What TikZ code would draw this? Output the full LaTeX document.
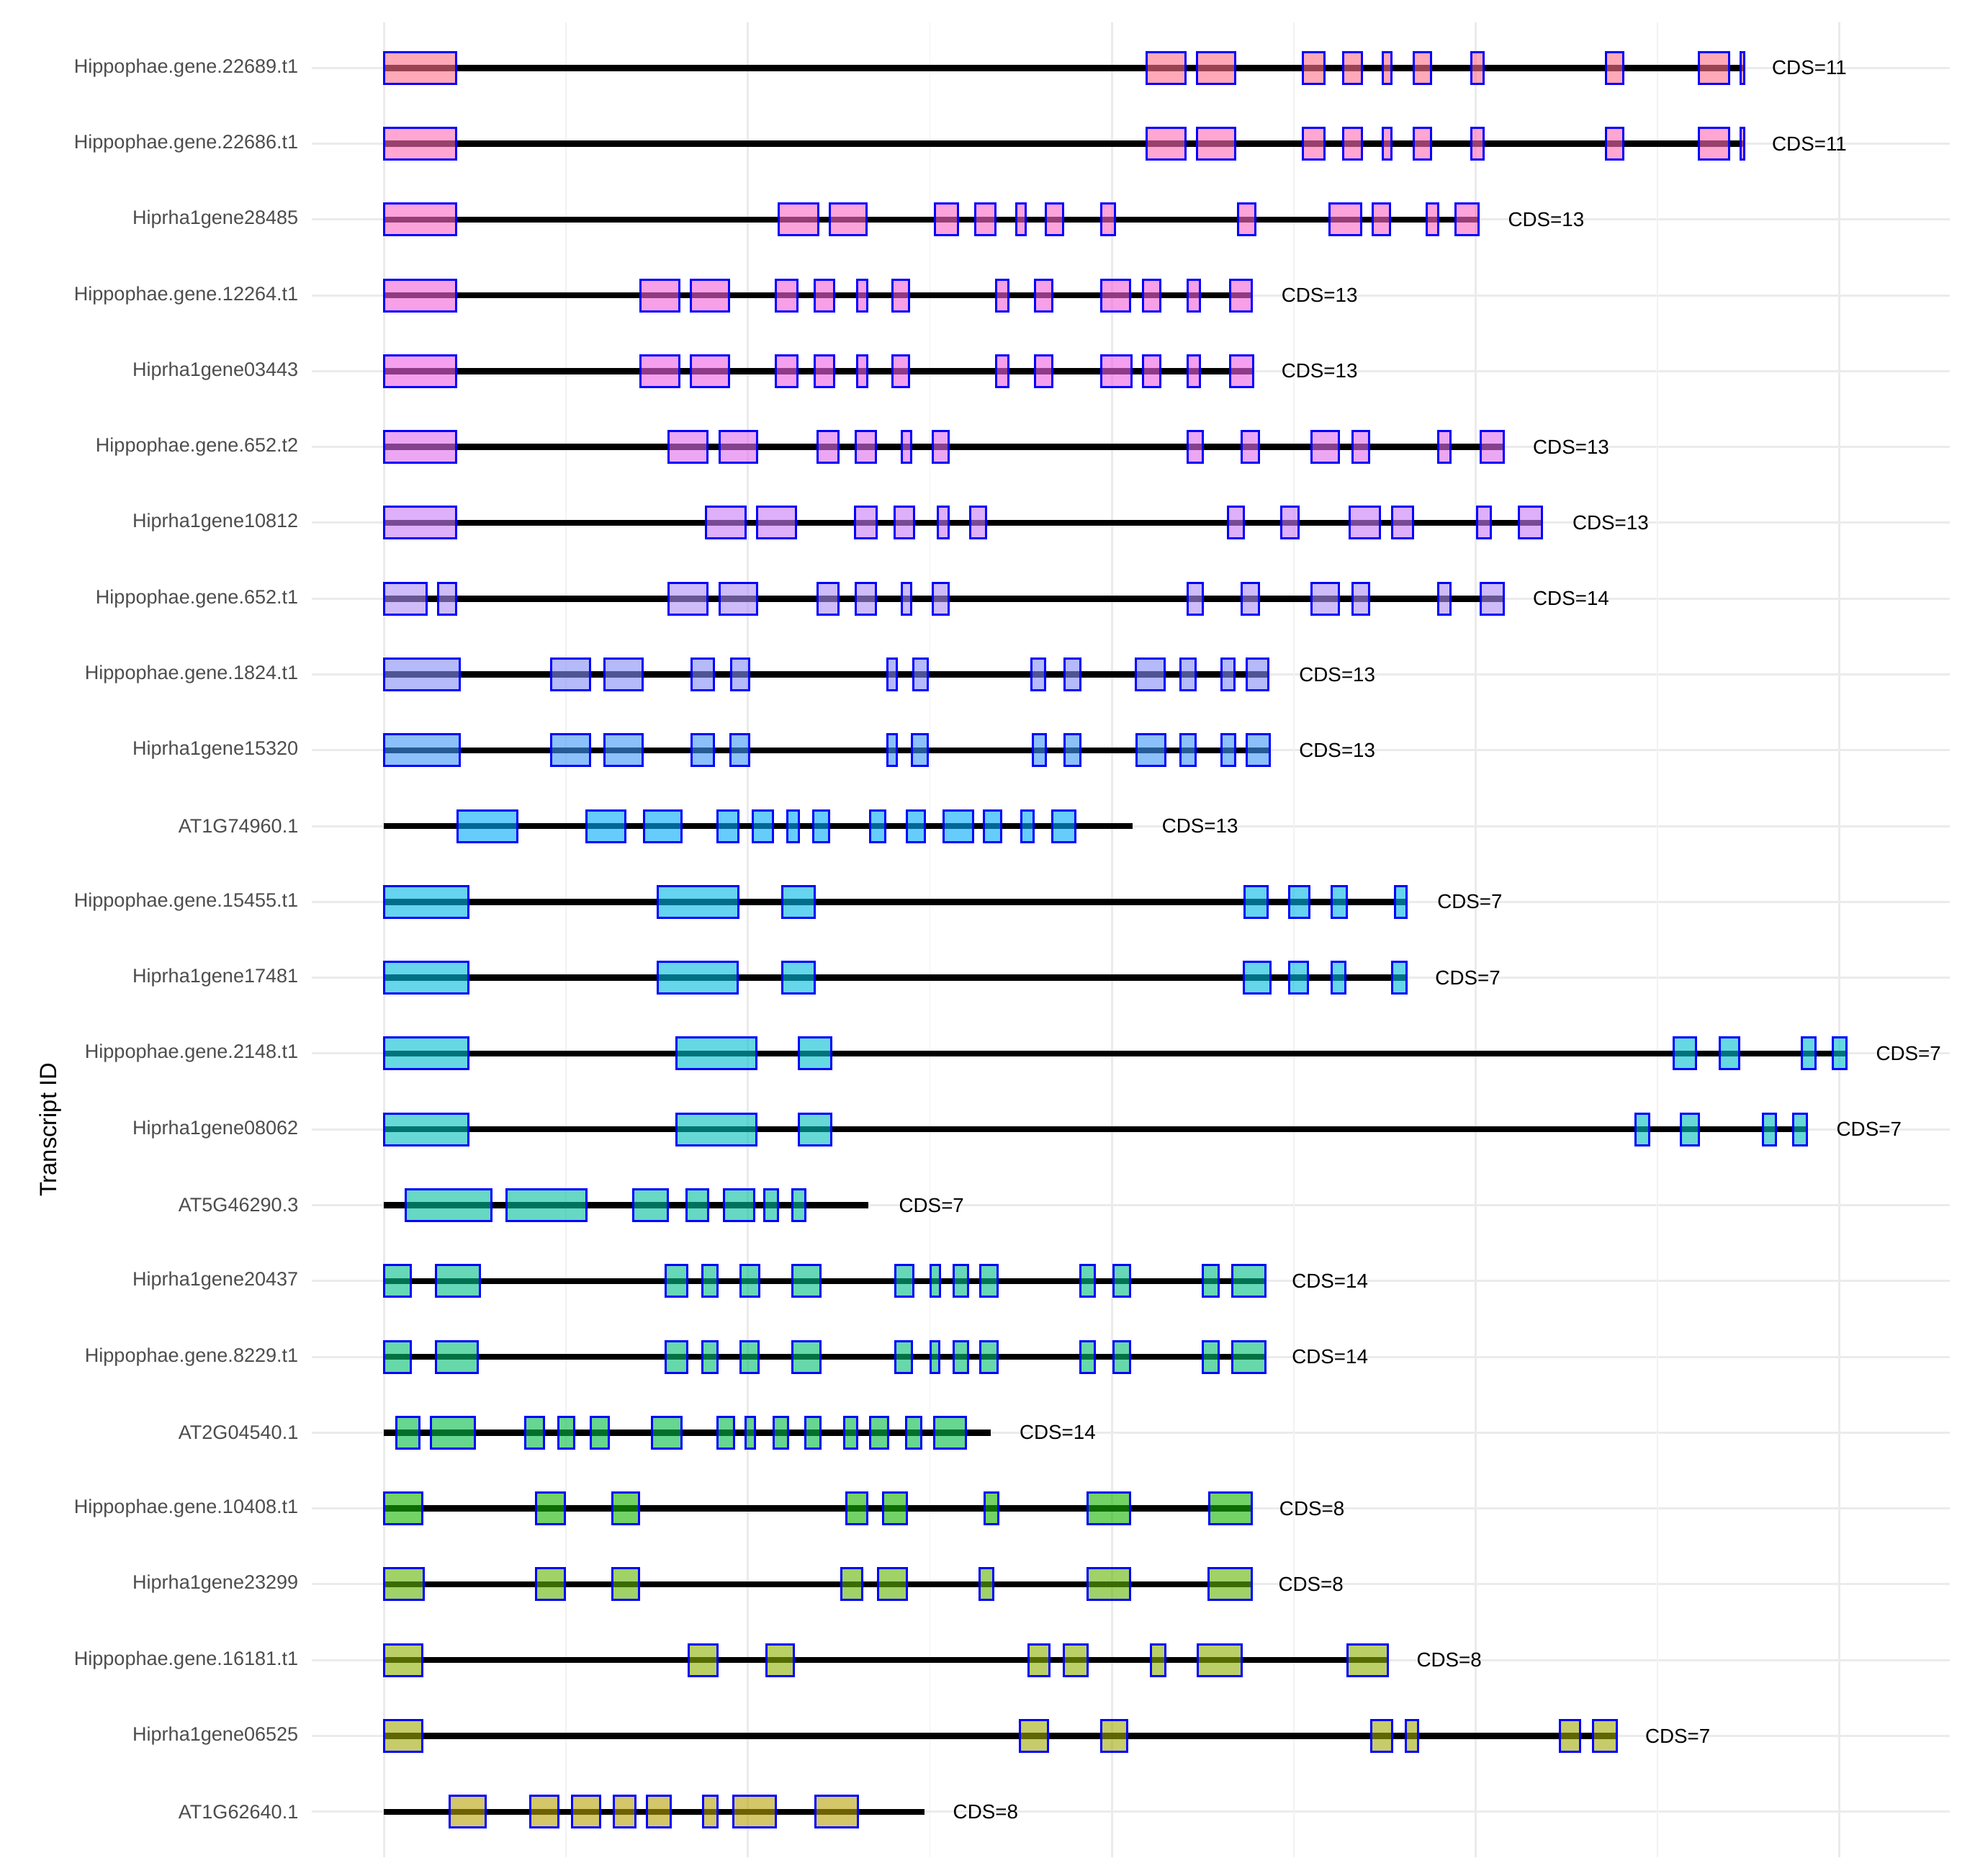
\documentclass[tikz,border=0pt]{standalone}
\usepackage{fontspec}
\setmainfont{Liberation Sans}
\definecolor{gridmaj}{HTML}{EBEBEB}
\definecolor{gridmin}{HTML}{F2F2F2}
\definecolor{labgray}{HTML}{4D4D4D}
\definecolor{c0}{RGB}{255,110,137}
\definecolor{c1}{RGB}{255,107,180}
\definecolor{c2}{RGB}{250,103,197}
\definecolor{c3}{RGB}{243,97,217}
\definecolor{c4}{RGB}{237,97,227}
\definecolor{c5}{RGB}{223,107,237}
\definecolor{c6}{RGB}{200,123,247}
\definecolor{c7}{RGB}{172,143,247}
\definecolor{c8}{RGB}{133,140,247}
\definecolor{c9}{RGB}{63,150,247}
\definecolor{c10}{RGB}{0,170,250}
\definecolor{c11}{RGB}{0,183,230}
\definecolor{c12}{RGB}{0,187,223}
\definecolor{c13}{RGB}{0,190,207}
\definecolor{c14}{RGB}{0,190,187}
\definecolor{c15}{RGB}{0,190,157}
\definecolor{c16}{RGB}{0,190,137}
\definecolor{c17}{RGB}{0,190,113}
\definecolor{c18}{RGB}{3,187,73}
\definecolor{c19}{RGB}{20,180,0}
\definecolor{c20}{RGB}{97,180,3}
\definecolor{c21}{RGB}{140,177,3}
\definecolor{c22}{RGB}{163,170,7}
\definecolor{c23}{RGB}{183,163,7}
\tikzset{
  intron/.style={line width=0.085cm, black, line cap=butt},
  exon/.style={draw=blue, line width=0.03cm, fill opacity=0.6},
  cdslab/.style={anchor=west, inner sep=0pt, text=black, font=\fontsize{7.9pt}{9pt}\selectfont},
  ylab/.style={anchor=east, inner sep=0pt, text=labgray, font=\fontsize{7.7pt}{9pt}\selectfont},
  gmajor/.style={gridmaj, line width=0.03cm},
  gminor/.style={gridmin, line width=0.018cm},
}
\newcommand{\generow}[7]{%
  \draw[intron] (#3,#1) -- (#4,#1);
  \foreach \a/\b in {#5} {\draw[exon, fill=c#1] (\a,#1-0.209) rectangle (\b,#1+0.209);}
  \node[cdslab] (cds#1) at (#6,#1) {CDS=#7};
}
\newcommand{\rowname}[2]{\node[ylab] (lab#1) at (-45,#1) {#2};}
\begin{document}
\begin{tikzpicture}
\useasboundingbox (0,0) rectangle (27.43,-26.04);
\fill[white] (0,0) rectangle (27.43,-26.04);
\node[rotate=90, inner sep=0pt, font=\fontsize{9.3pt}{11pt}\selectfont] (ytitle) at (0.70,-15.69) {Transcript ID};
\begin{scope}[shift={(4.8cm,-0.943cm)}, x=0.014432cm, y=-1.0528cm]
  % grid
  \foreach \i in {0,...,23} {\draw[gmajor] (-32.6,\i) -- (1543.8,\i);}
  \foreach \k in {1,3,5,7} {\draw[gminor] (37+175.06*\k,-0.6) -- (37+175.06*\k,23.6);}
  \foreach \k in {0,2,4,6,8} {\draw[gmajor] (37+175.06*\k,-0.6) -- (37+175.06*\k,23.6);}
  % labels
  \rowname{0}{Hippophae.gene.22689.t1}
  \rowname{1}{Hippophae.gene.22686.t1}
  \rowname{2}{Hiprha1gene28485}
  \rowname{3}{Hippophae.gene.12264.t1}
  \rowname{4}{Hiprha1gene03443}
  \rowname{5}{Hippophae.gene.652.t2}
  \rowname{6}{Hiprha1gene10812}
  \rowname{7}{Hippophae.gene.652.t1}
  \rowname{8}{Hippophae.gene.1824.t1}
  \rowname{9}{Hiprha1gene15320}
  \rowname{10}{AT1G74960.1}
  \rowname{11}{Hippophae.gene.15455.t1}
  \rowname{12}{Hiprha1gene17481}
  \rowname{13}{Hippophae.gene.2148.t1}
  \rowname{14}{Hiprha1gene08062}
  \rowname{15}{AT5G46290.3}
  \rowname{16}{Hiprha1gene20437}
  \rowname{17}{Hippophae.gene.8229.t1}
  \rowname{18}{AT2G04540.1}
  \rowname{19}{Hippophae.gene.10408.t1}
  \rowname{20}{Hiprha1gene23299}
  \rowname{21}{Hippophae.gene.16181.t1}
  \rowname{22}{Hiprha1gene06525}
  \rowname{23}{AT1G62640.1}
  % gene models
  \generow{0}{}{37}{1346}{37/106,771/808,819/856,921/942,960/978,998/1006,1028/1044,1083/1095,1213/1229,1302/1331,1342/1346}{1372}{11}
  \generow{1}{}{37}{1346}{37/106,771/808,819/856,921/942,960/978,998/1006,1028/1044,1083/1095,1213/1229,1302/1331,1342/1346}{1372}{11}
  \generow{2}{}{37}{1090}{37/106,417/455,466/501,567/589,606/625,645/654,674/690,727/740,859/875,947/977,988/1005,1040/1051,1068/1090}{1118}{13}
  \generow{3}{}{37}{872}{37/106,284/321,332/369,414/435,451/470,492/502,526/542,626/638,663/680,727/755,767/784,810/822,851/872}{900}{13}
  \generow{4}{}{37}{873}{37/106,284/321,332/369,414/435,451/470,492/502,526/542,626/638,663/680,727/756,767/784,810/822,851/873}{900}{13}
  \generow{5}{}{37}{1114}{37/106,311/348,360/396,454/474,491/510,535/544,565/580,810/825,862/879,929/956,969/985,1051/1063,1092/1114}{1142}{13}
  \generow{6}{}{37}{1151}{37/106,347/385,396/433,490/511,528/547,570/580,601/616,849/864,900/917,966/995,1007/1027,1089/1102,1129/1151}{1180}{13}
  \generow{7}{}{37}{1114}{37/78,89/106,311/348,360/396,454/474,491/510,535/544,565/580,810/825,862/879,929/956,969/985,1051/1063,1092/1114}{1142}{14}
  \generow{8}{}{37}{888}{37/110,198/235,249/286,333/354,371/388,521/530,546/560,660/673,692/707,760/788,803/818,843/855,867/888}{917}{13}
  \generow{9}{}{37}{889}{37/110,198/235,249/286,333/354,370/388,521/530,545/560,661/674,692/707,761/789,803/818,843/856,867/889}{917}{13}
  \generow{10}{}{37}{757}{108/165,232/269,287/323,358/378,392/411,425/436,450/465,505/519,540/557,575/604,614/631,650/662,680/702}{785}{13}
  \generow{11}{}{37}{1021}{37/118,300/378,420/451,865/887,908/927,949/963,1010/1021}{1050}{7}
  \generow{12}{}{37}{1021}{37/118,300/377,420/451,864/890,908/926,949/962,1007/1021}{1048}{7}
  \generow{13}{}{37}{1444}{37/118,318/395,436/467,1278/1299,1322/1341,1401/1414,1431/1444}{1472}{7}
  \generow{14}{}{37}{1406}{37/118,318/395,436/467,1241/1254,1285/1302,1364/1376,1393/1406}{1434}{7}
  \generow{15}{}{37}{503}{58/140,155/232,277/310,328/349,364/393,403/416,430/442}{532}{7}
  \generow{16}{}{37}{885}{37/63,87/129,308/329,343/358,380/398,430/457,529/546,563/572,585/599,611/627,707/721,739/755,825/840,853/885}{910}{14}
  \generow{17}{}{37}{885}{37/63,87/127,308/329,343/358,380/397,430/457,529/545,563/571,585/599,611/627,707/721,739/755,825/840,853/885}{910}{14}
  \generow{18}{}{37}{621}{49/71,82/124,173/191,205/220,236/253,295/323,358/374,385/394,412/426,442/457,480/492,505/522,539/554,566/597}{648}{14}
  \generow{19}{}{37}{872}{37/74,183/211,257/282,482/502,517/540,615/628,714/755,831/872}{898}{8}
  \generow{20}{}{37}{872}{37/75,183/211,257/282,477/497,512/540,610/623,714/755,830/872}{897}{8}
  \generow{21}{}{37}{1003}{37/74,330/358,405/431,657/677,691/714,775/789,820/862,964/1003}{1030}{8}
  \generow{22}{}{37}{1223}{37/74,649/676,727/752,987/1007,1020/1032,1168/1188,1200/1223}{1250}{7}
  \generow{23}{}{37}{557}{100/135,178/205,218/245,258/279,290/313,344/358,373/414,452/493}{584}{8}
\end{scope}
\end{tikzpicture}
\end{document}
